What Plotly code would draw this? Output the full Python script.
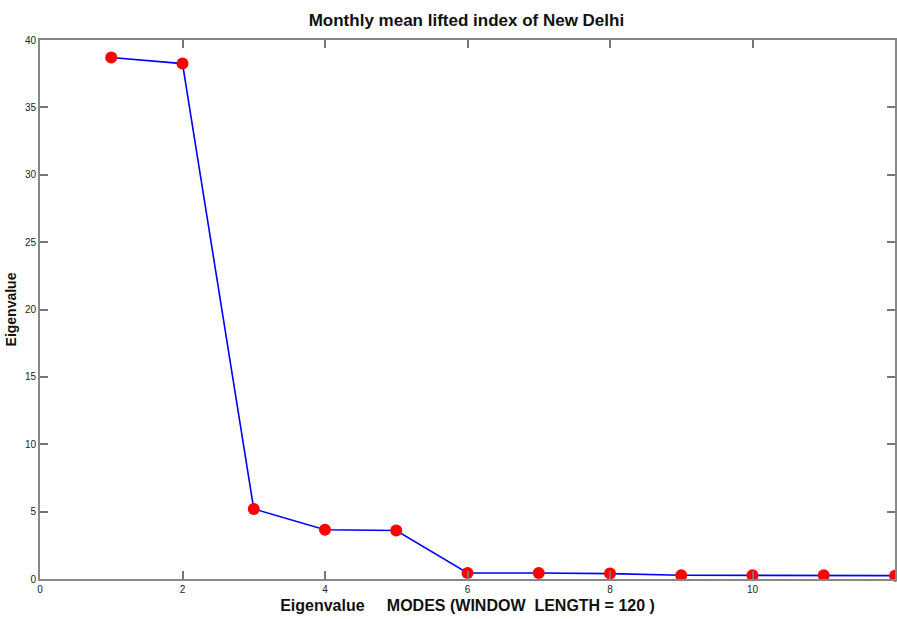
import plotly.graph_objects as go

modes = [1, 2, 3, 4, 5, 6, 7, 8, 9, 10, 11, 12]
eigenvalues = [38.7, 38.25, 5.2, 3.65, 3.6, 0.45, 0.45, 0.4, 0.28, 0.28, 0.28, 0.25]

x_ticks = [0, 2, 4, 6, 8, 10, 12]
y_ticks = [0, 5, 10, 15, 20, 25, 30, 35, 40]

fig = go.Figure()
fig.add_trace(go.Scatter(
    x=modes, y=eigenvalues, mode="lines+markers",
    line=dict(color="#0000ff", width=1.6),
    marker=dict(color="#ff0000", size=12, symbol="circle"),
    cliponaxis=False, showlegend=False,
))

axis_common = dict(
    showgrid=False, zeroline=False, showline=True, linecolor="#888888", linewidth=2,
    mirror="ticks", ticks="inside", ticklen=8, tickcolor="#777777", tickwidth=1.5,
    tickfont=dict(family="Liberation Sans Narrow, Arial Narrow, Liberation Sans", size=10, color="#222222"),
)

fig.update_layout(
    width=897, height=619,
    margin=dict(l=40, r=0, t=40, b=40),
    paper_bgcolor="white", plot_bgcolor="white",
    title=dict(text="<b>Monthly mean lifted index of New Delhi</b>",
               x=0.52, xanchor="center", y=0.968, yanchor="middle",
               font=dict(family="Liberation Sans", size=17, color="#111111")),
    xaxis=dict(range=[0, 12], tickvals=x_ticks, **axis_common,
               title=dict(text="<b>Eigenvalue     MODES (WINDOW  LENGTH = 120 )</b>", standoff=6,
                          font=dict(family="Liberation Sans", size=16, color="#111111"))),
    yaxis=dict(range=[0, 40], tickvals=y_ticks, **axis_common,
               title=dict(text="<b>Eigenvalue</b>", standoff=5,
                          font=dict(family="Liberation Sans", size=14, color="#111111"))),
)

fig.write_html("out.html")
